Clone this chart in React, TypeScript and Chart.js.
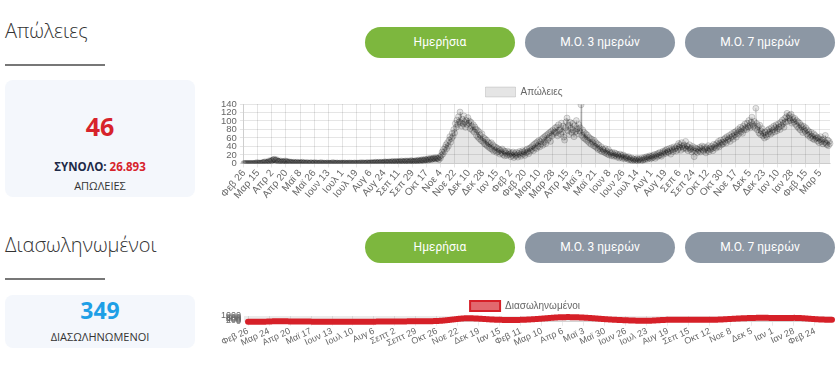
import React, { useEffect, useRef } from 'react';
import { Chart, registerables } from 'chart.js';

Chart.register(...registerables);

// ---------- tick label parts ----------
const MONTHS = ['Ιαν', 'Φεβ', 'Μαρ', 'Απρ', 'Μαϊ', 'Ιουν', 'Ιουλ', 'Αυγ', 'Σεπ', 'Οκτ', 'Νοε', 'Δεκ'];
const MONTHS_2020_ALT = ['Ιαν', 'Φεβ', 'Μαρ', 'Απρ', 'Μαϊ', 'Ιουν', 'Ιουλ', 'Αυγ', 'Σεπτ', 'Οκτ', 'Νοε', 'Δεκ'];
const START_DATE = [2020, 1, 26]; // 26 Feb 2020
const DEATHS_TICK_EVERY = 18;
const INTUBATED_TICK_EVERY = 27;
const DEATHS_Y_TICKS = [0, 20, 40, 60, 80, 100, 120, 140];
const INTUBATED_Y_TICKS = [0, 200, 400, 600, 800, 1000];

// ---------- daily deaths (Απώλειες) ----------
const deathsFeb2020 = [0, 0, 0, 0];
const deathsMar2020 = [0,0,0,0,0,0,0,0,0,0, 0,1,0,2,1,0,1,1,0,1, 2,2,2,4,2,2,2,3,6,5,4];
const deathsApr2020 = [7,6,8,9,10,8,7,9,6,5, 5,4,6,3,4,5,3,4,6,4, 5,3,2,4,3,2,3,2,1,3];
const deathsMay2020 = [2,1,2,3,1,2,1,2,1,2, 3,1,1,2,0,1,2,1,1,0, 1,2,1,0,1,1,2,0,1,1,0];
const deathsJun2020 = [1,0,1,2,0,1,0,1,0,0, 1,1,0,1,0,0,1,0,2,1, 0,1,0,1,1,0,0,1,0,1];
const deathsJul2020 = [0,1,0,1,1,0,0,1,0,1, 1,0,1,0,0,1,1,0,1,0, 1,0,1,1,0,2,0,1,1,1,0];
const deathsAug2020 = [1,2,1,0,1,2,1,1,2,1, 2,1,3,2,1,2,3,1,2,3, 2,1,3,2,4,3,2,3,2,4,3];
const deathsSep2020 = [2,4,3,5,3,2,4,5,3,4, 3,5,4,3,6,4,5,3,4,6, 5,4,6,3,5,4,7,5,6,4];
const deathsOct2020 = [5,6,4,7,5,6,8,5,7,6, 9,7,8,6,10,8,9,7,11,8, 10,12,9,11,10,13,12,10,14,11,12];
const deathsNov2020 = [12,9,16,13,19,27,22,33,28,38, 44,35,49,41,55,63,50,59,71,64, 80,72,94,85,102,92,110,98,121,96];
const deathsDec2020 = [88,104,93,112,97,85,101,92,108,95, 100,82,97,88,78,91,74,86,81,66, 79,62,75,58,67,54,70,52,61,47,58];
const deathsJan2021 = [44,55,41,50,38,47,35,49,33,44, 29,40,31,38,26,36,28,33,22,31, 25,34,21,30,18,28,24,19,29,21,26];
const deathsFeb2021 = [22,16,25,19,27,14,23,18,26,20, 15,24,28,21,17,26,30,22,27,19, 31,25,34,28,23,36,29,38];
const deathsMar2021 = [33,42,30,45,37,48,35,51,41,54, 39,52,46,58,43,61,50,64,47,67, 55,70,60,73,52,76,65,79,70,74,84];
const deathsApr2021 = [72,86,65,91,78,80,69,95,74,88, 62,55,84,98,107,77,90,68,97,83, 73,94,79,63,89,75,101,82,70,92];
const deathsMay2021 = [76,84,138,66,79,61,73,58,70,55, 67,52,62,48,59,45,57,50,42,54, 40,49,37,46,33,43,35,30,39,28,34];
const deathsJun2021 = [31,26,35,24,29,22,33,20,27,24, 18,26,21,17,25,19,23,15,21,18, 13,22,16,19,12,20,15,11,17,13];
const deathsJul2021 = [14,10,16,9,12,8,13,6,11,9, 5,10,7,12,6,9,11,4,8,13, 7,10,14,9,12,16,10,15,13,18,11];
const deathsAug2021 = [17,13,19,15,21,12,18,22,16,24, 19,26,20,17,25,29,22,27,31,24, 33,28,26,35,30,22,37,32,28,39,34];
const deathsSep2021 = [36,29,41,33,47,38,44,31,49,40, 35,43,37,52,34,41,30,38,44,33, 36,27,40,31,16,37,29,35,26,33];
const deathsOct2021 = [30,38,27,36,41,32,29,39,34,25, 37,31,42,28,36,33,40,35,30,45, 38,43,36,47,41,52,39,48,55,44,50];
const deathsNov2021 = [46,57,51,60,48,63,55,58,66,52, 61,70,64,57,73,67,75,62,71,80, 69,77,85,74,82,71,88,79,93,84];
const deathsDec2021 = [80,95,86,101,89,84,97,109,92,88, 99,83,130,94,79,87,72,90,68,76, 82,65,71,60,74,67,63,78,70,81,75];
const deathsJan2022 = [69,84,73,79,88,74,85,91,77,82, 93,86,80,97,89,102,94,85,106,98, 110,118,99,107,113,101,116,95,109,103,98];
const deathsFeb2022 = [106,92,101,87,98,83,95,79,90,86, 73,88,80,76,84,70,79,66,75,69, 61,73,64,58,70,56,66,59];
const deathsMar2022 = [62,53,60,49,57,63,51,55,46,58, 50,66,48,44,55,42,52,47];

// ---------- intubated (Διασωληνωμένοι) ----------
const intubFeb2020 = [0, 0, 0, 0];
const intubMar2020 = [0,0,0,0,0,0,0,0,0,0, 0,1,2,4,6,8,10,13,16,20, 24,28,34,40,46,52,58,65,72,78,85];
const intubApr2020 = [88,90,92,93,93,92,90,88,86,84, 82,80,78,75,72,70,68,65,62,60, 58,55,53,50,48,46,44,42,40,38];
const intubMay2020 = [36,35,34,33,32,31,30,29,28,27, 26,26,25,24,24,23,22,21,20,19, 18,17,16,16,15,14,14,13,13,12,12];
const intubJun2020 = [12,11,11,11,10,10,10,11,11,10, 10,10,11,11,12,12,11,11,10,10, 10,11,11,12,12,12,11,11,12,12];
const intubJul2020 = [12,12,13,13,13,12,12,13,13,14, 14,14,13,13,14,14,15,15,14,14, 15,15,16,16,15,15,16,16,17,17,16];
const intubAug2020 = [16,17,17,18,18,19,20,21,22,23, 24,24,25,26,27,28,29,30,31,32, 33,34,35,36,37,38,39,40,41,42,42];
const intubSep2020 = [43,44,46,47,49,50,52,53,55,56, 58,59,60,62,63,64,65,66,67,68, 69,70,71,72,73,73,74,75,75,76];
const intubOct2020 = [77,77,78,78,79,80,80,81,82,83, 84,85,86,88,90,92,94,97,100,104, 108,112,117,122,128,134,140,147,154,162,170];
const intubNov2020 = [180,192,205,218,232,246,260,275,290,305, 320,336,352,368,384,400,416,432,448,464, 480,496,510,524,538,550,562,572,582,590];
const intubDec2020 = [598,604,608,610,611,610,608,605,601,597, 592,587,581,575,569,562,555,547,539,531, 522,513,504,495,486,476,466,456,446,436,426];
const intubJan2021 = [418,410,402,395,388,381,375,369,363,358, 353,348,344,340,336,332,329,326,323,320, 318,316,314,312,311,310,309,308,307,306,306];
const intubFeb2021 = [307,308,309,311,313,315,318,321,324,328, 332,336,341,346,351,357,363,369,376,383, 390,398,406,414,422,430,439,448];
const intubMar2021 = [457,466,475,485,495,505,515,525,535,546, 557,568,579,590,601,612,623,634,645,656, 667,678,689,700,710,720,730,740,749,757,764];
const intubApr2021 = [770,776,781,786,790,794,797,800,802,804, 805,806,806,805,804,802,800,797,794,791, 787,783,779,774,769,764,759,753,747,741];
const intubMay2021 = [734,727,720,712,704,696,688,679,670,661, 652,642,632,622,612,602,591,580,569,558, 547,536,525,514,503,492,481,470,460,450,440];
const intubJun2021 = [430,421,412,403,394,386,378,370,362,355, 348,341,334,328,322,316,310,304,298,292, 286,280,274,268,262,256,250,245,240,235];
const intubJul2021 = [230,225,220,215,210,205,200,196,192,188, 184,180,176,172,168,165,162,160,158,157, 157,158,160,163,167,172,178,185,192,200,208];
const intubAug2021 = [216,224,232,240,248,256,264,272,280,287, 294,301,308,314,320,326,331,336,340,344, 347,350,352,354,356,357,358,359,359,360,360];
const intubSep2021 = [360,359,359,358,357,356,355,354,353,352, 351,350,349,348,347,346,345,344,343,342, 341,340,339,338,337,336,335,334,333,332];
const intubOct2021 = [331,330,329,329,328,328,328,329,330,331, 332,334,336,338,340,343,346,350,354,358, 363,368,373,379,385,391,398,405,412,420,428];
const intubNov2021 = [436,444,452,460,468,476,484,492,500,508, 516,524,532,540,548,556,563,570,577,584, 590,596,602,608,613,618,623,628,632,636];
const intubDec2021 = [640,644,648,652,656,660,664,668,671,674, 677,680,683,686,688,690,692,693,694,694, 693,691,688,684,680,676,672,668,664,660,657];
const intubJan2022 = [654,651,648,646,644,642,640,638,637,636, 636,637,638,640,642,645,648,651,654,657, 660,663,666,668,670,672,673,674,674,673,671];
const intubFeb2022 = [668,664,659,653,646,638,630,621,612,602, 592,582,571,560,549,538,527,516,505,494, 484,474,464,454,444,435,426,417];
const intubMar2022 = [409,402,396,390,385,380,375,371,367,364, 361,358,356,354,352,351,350,349];

const deaths = [
  ...deathsFeb2020, ...deathsMar2020, ...deathsApr2020, ...deathsMay2020, ...deathsJun2020,
  ...deathsJul2020, ...deathsAug2020, ...deathsSep2020, ...deathsOct2020, ...deathsNov2020,
  ...deathsDec2020, ...deathsJan2021, ...deathsFeb2021, ...deathsMar2021, ...deathsApr2021,
  ...deathsMay2021, ...deathsJun2021, ...deathsJul2021, ...deathsAug2021, ...deathsSep2021,
  ...deathsOct2021, ...deathsNov2021, ...deathsDec2021, ...deathsJan2022, ...deathsFeb2022,
  ...deathsMar2022,
];
const intubated = [
  ...intubFeb2020, ...intubMar2020, ...intubApr2020, ...intubMay2020, ...intubJun2020,
  ...intubJul2020, ...intubAug2020, ...intubSep2020, ...intubOct2020, ...intubNov2020,
  ...intubDec2020, ...intubJan2021, ...intubFeb2021, ...intubMar2021, ...intubApr2021,
  ...intubMay2021, ...intubJun2021, ...intubJul2021, ...intubAug2021, ...intubSep2021,
  ...intubOct2021, ...intubNov2021, ...intubDec2021, ...intubJan2022, ...intubFeb2022,
  ...intubMar2022,
];

function makeLabels(n: number, altFor2020: boolean): string[] {
  const out: string[] = [];
  const base = Date.UTC(START_DATE[0], START_DATE[1], START_DATE[2]);
  for (let i = 0; i < n; i++) {
    const d = new Date(base + i * 86400000);
    const names = altFor2020 && d.getUTCFullYear() === 2020 ? MONTHS_2020_ALT : MONTHS;
    out.push(names[d.getUTCMonth()] + ' ' + d.getUTCDate());
  }
  return out;
}

const deathLabels = makeLabels(deaths.length, false);
const intubLabels = makeLabels(intubated.length, true);

const FONT_FAMILY = "'Liberation Sans', Arial, sans-serif";

// shrinks the legend block so the plot starts closer under it
function legendShrink(px: number) {
  return {
    id: 'legendShrink',
    beforeInit(chart: any) {
      const lg = chart.legend;
      if (!lg) return;
      const orig = lg.fit.bind(lg);
      lg.fit = () => { orig(); lg.height -= px; };
    },
  };
}

function thinLegendBoxes(lineWidth: number) {
  return (chart: any) => {
    const items = (Chart as any).defaults.plugins.legend.labels.generateLabels(chart);
    return items.map((it: any) => ({ ...it, lineWidth, lineCap: 'butt', lineJoin: 'miter' }));
  };
}

function DeathsChart() {
  const ref = useRef<HTMLCanvasElement>(null);
  useEffect(() => {
    const chart = new Chart(ref.current!, {
      type: 'line',
      data: {
        labels: deathLabels,
        datasets: [{
          label: 'Απώλειες',
          data: deaths,
          fill: true,
          backgroundColor: 'rgba(0,0,0,0.1)',
          borderColor: 'rgba(0,0,0,0.12)',
          borderWidth: 1,
          pointRadius: 3,
          pointBackgroundColor: 'rgba(0,0,0,0.1)',
          pointBorderColor: 'rgba(0,0,0,0.17)',
          pointBorderWidth: 1,
          tension: 0,
        }],
      },
      options: {
        responsive: false,
        animation: false,
        layout: { padding: { left: 0, right: 10, top: 0, bottom: 0 } },
        plugins: {
          legend: {
            labels: { boxWidth: 30, font: { family: FONT_FAMILY, size: 10 }, color: '#666', padding: 10 },
          },
          tooltip: { enabled: false },
        },
        scales: {
          x: {
            ticks: {
              autoSkip: false,
              minRotation: 50,
              maxRotation: 50,
              font: { family: FONT_FAMILY, size: 10 },
              color: '#666',
              padding: 0,
              callback: (_v: any, i: number) => (i % DEATHS_TICK_EVERY === 0 ? deathLabels[i] : null),
            },
            grid: { color: 'rgba(0,0,0,0.1)', tickLength: 4 },
          },
          y: {
            min: DEATHS_Y_TICKS[0],
            max: DEATHS_Y_TICKS[DEATHS_Y_TICKS.length - 1],
            afterBuildTicks: (axis: any) => { axis.ticks = DEATHS_Y_TICKS.map((v) => ({ value: v })); },
            ticks: { autoSkip: false, font: { family: FONT_FAMILY, size: 9.5 }, color: '#666', padding: 3, callback: (v: any) => String(v) },
            grid: { color: 'rgba(0,0,0,0.1)', tickLength: 4 },
          },
        },
      },
      plugins: [legendShrink(3)],
    } as any);
    return () => chart.destroy();
  }, []);
  return <canvas ref={ref} width={622} height={124} />;
}

function IntubatedChart() {
  const ref = useRef<HTMLCanvasElement>(null);
  useEffect(() => {
    const chart = new Chart(ref.current!, {
      type: 'line',
      data: {
        labels: intubLabels,
        datasets: [{
          label: 'Διασωληνωμένοι',
          data: intubated,
          fill: false,
          backgroundColor: 'rgba(214,40,48,0.7)',
          borderColor: 'rgb(214,32,40)',
          borderWidth: 6,
          borderCapStyle: 'round',
          borderJoinStyle: 'round',
          pointRadius: 0,
          tension: 0.3,
          clip: false,
        }],
      },
      options: {
        responsive: false,
        animation: false,
        layout: { padding: { left: 0, right: 8, top: 0, bottom: 0 } },
        plugins: {
          legend: {
            labels: {
              boxWidth: 30, font: { family: FONT_FAMILY, size: 10 }, color: '#666', padding: 10,
              generateLabels: thinLegendBoxes(2),
            },
          },
          tooltip: { enabled: false },
        },
        scales: {
          x: {
            ticks: {
              autoSkip: false,
              minRotation: 25,
              maxRotation: 25,
              font: { family: FONT_FAMILY, size: 9 },
              color: '#666',
              padding: 0,
              callback: (_v: any, i: number) => (i % INTUBATED_TICK_EVERY === 0 ? intubLabels[i] : null),
            },
            grid: { color: 'rgba(0,0,0,0.08)', tickLength: 4 },
          },
          y: {
            min: INTUBATED_Y_TICKS[0],
            max: INTUBATED_Y_TICKS[INTUBATED_Y_TICKS.length - 1],
            afterBuildTicks: (axis: any) => { axis.ticks = INTUBATED_Y_TICKS.map((v) => ({ value: v })); },
            ticks: { autoSkip: false, font: { family: FONT_FAMILY, size: 9 }, color: '#666', padding: 3, callback: (v: any) => String(v) },
            grid: { color: 'rgba(0,0,0,0.08)', tickLength: 4 },
          },
        },
      },
      plugins: [legendShrink(4)],
    } as any);
    return () => chart.destroy();
  }, []);
  return <canvas ref={ref} width={622} height={58} />;
}

const SANS = "'Open Sans', 'Noto Sans', sans-serif";
const BTN_FONT = "Roboto, 'Open Sans', sans-serif";

function abs(left: number, top: number, extra: React.CSSProperties = {}): React.CSSProperties {
  return { position: 'absolute', left, top, ...extra };
}

function Buttons({ top }: { top: number }) {
  const items = [
    { text: 'Ημερήσια', left: 365, bg: '#7db73e' },
    { text: 'Μ.Ο. 3 ημερών', left: 525, bg: '#8c97a4' },
    { text: 'Μ.Ο. 7 ημερών', left: 685, bg: '#8c97a4' },
  ];
  return (
    <>
      {items.map((b) => (
        <div key={b.text} style={abs(b.left, top, {
          width: 150, height: 31, borderRadius: 15.5, background: b.bg, color: '#fff',
          fontFamily: BTN_FONT, fontSize: 12, lineHeight: '31px', textAlign: 'center',
        })}>{b.text}</div>
      ))}
    </>
  );
}

export default function App() {
  return (
    <div style={{ position: 'fixed', left: 0, top: 0, width: 840, height: 366, background: '#fff', overflow: 'hidden' }}>
      {/* Section 1 */}
      <div style={abs(5, 21, { fontFamily: SANS, fontWeight: 300, fontSize: 20, lineHeight: '20px', color: '#333', whiteSpace: 'nowrap' })}>Απώλειες</div>
      <div style={abs(5, 64, { width: 100, height: 2, background: '#777' })} />
      <div style={abs(5, 80, { width: 190, height: 117, background: '#f4f7fc', borderRadius: 8 })} />
      <div style={abs(5, 114, { width: 190, textAlign: 'center', fontFamily: SANS, fontWeight: 700, fontSize: 25, lineHeight: '25px', color: '#d7232b' })}>46</div>
      <div style={abs(5, 161, { width: 190, textAlign: 'center', fontFamily: SANS, fontWeight: 700, fontSize: 11.5, lineHeight: '12px', color: '#1d2a48', whiteSpace: 'nowrap' })}>
        ΣΥΝΟΛΟ: <span style={{ color: '#d7232b' }}>26.893</span>
      </div>
      <div style={abs(5, 180, { width: 190, textAlign: 'center', fontFamily: SANS, fontSize: 11, lineHeight: '11px', color: '#333' })}>ΑΠΩΛΕΙΕΣ</div>
      <Buttons top={27} />
      <div style={abs(218, 77, { width: 622, height: 124 })}><DeathsChart /></div>

      {/* Section 2 */}
      <div style={abs(5, 235, { fontFamily: SANS, fontWeight: 300, fontSize: 20, lineHeight: '20px', color: '#333', whiteSpace: 'nowrap' })}>Διασωληνωμένοι</div>
      <div style={abs(5, 278, { width: 100, height: 2, background: '#777' })} />
      <div style={abs(5, 295, { width: 190, height: 53, background: '#f4f7fc', borderRadius: 8 })} />
      <div style={abs(5, 299, { width: 190, textAlign: 'center', fontFamily: SANS, fontWeight: 700, fontSize: 23, lineHeight: '23px', color: '#1e9fe6' })}>349</div>
      <div style={abs(5, 331, { width: 190, textAlign: 'center', fontFamily: SANS, fontSize: 11, lineHeight: '11px', color: '#333' })}>ΔΙΑΣΩΛΗΝΩΜΕΝΟΙ</div>
      <Buttons top={232} />
      <div style={abs(218, 291, { width: 622, height: 58 })}><IntubatedChart /></div>
    </div>
  );
}
